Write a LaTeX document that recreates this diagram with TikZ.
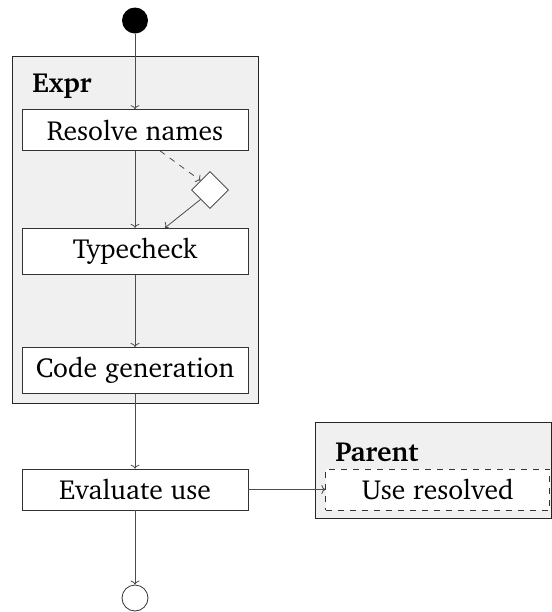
\documentclass[tikz,border=0pt]{standalone}
\usepackage[T1]{fontenc}
\usepackage{charter}
\usetikzlibrary{arrows.meta, positioning, shapes.geometric, backgrounds}

\begin{document}
\begin{tikzpicture}[
    node distance=38.5pt,
    font=\fontsize{13.8}{16}\selectfont,
    action/.style={rectangle, draw=black!80, fill=white, minimum width=113pt, inner xsep=2pt, inner ysep=5pt},
    group/.style={draw=black!85, fill=black!6},
    grouplabel/.style={anchor=west, inner sep=0pt, font=\fontsize{13.8}{16}\selectfont\bfseries},
    arrow/.style={-{To[length=2pt,width=4.5pt]}, draw=black!70}
]
\useasboundingbox (0,0) rectangle (276pt,-306pt);

% start and the Expr steps
\node[circle, fill=black, minimum size=13pt, inner sep=0pt] (start) at (67.5pt,-10.25pt) {};
\node[action] (resolve) at (67.5pt,-65pt) {Resolve names};
\node[action, below=of resolve] (typecheck) {Typecheck};
\node[action] (codegen) at (67.5pt,-185.25pt) {Code generation};
\node[diamond, draw=black!80, fill=white, minimum width=18.5pt, minimum height=18.5pt, inner sep=0pt] (check) at (105pt,-95pt) {};
\node[grouplabel] (exprlabel) at (16pt,-43pt) {Expr};

% after Expr
\node[action] (evaluate) at (67.5pt,-244.75pt) {Evaluate use};
\node[circle, draw=black!80, fill=white, minimum size=13pt, inner sep=0pt] (stop) at (67.5pt,-299pt) {};
\node[action, dashed, minimum width=112pt, right=of evaluate] (used) {Use resolved};
\node[grouplabel] (parentlabel) at (167.5pt,-226pt) {Parent};

\begin{scope}[on background layer]
\draw[group] (6pt,-28pt) rectangle (129pt,-201.5pt);
\draw[group] (157.5pt,-211pt) rectangle (275.5pt,-259pt);
\end{scope}

\draw[arrow] (start) -- (resolve);
\draw[arrow] (resolve) -- (typecheck);
\draw[arrow, dashed] ([xshift=12.5pt]resolve.south) -- (check.north west);
\draw[arrow] (check.south west) -- ([xshift=15pt]typecheck.north);
\draw[arrow] (typecheck) -- (codegen);
\draw[arrow] (codegen) -- (evaluate);
\draw[arrow] (evaluate) -- (stop);
\draw[arrow] (evaluate) -- (used);
\end{tikzpicture}
\end{document}
